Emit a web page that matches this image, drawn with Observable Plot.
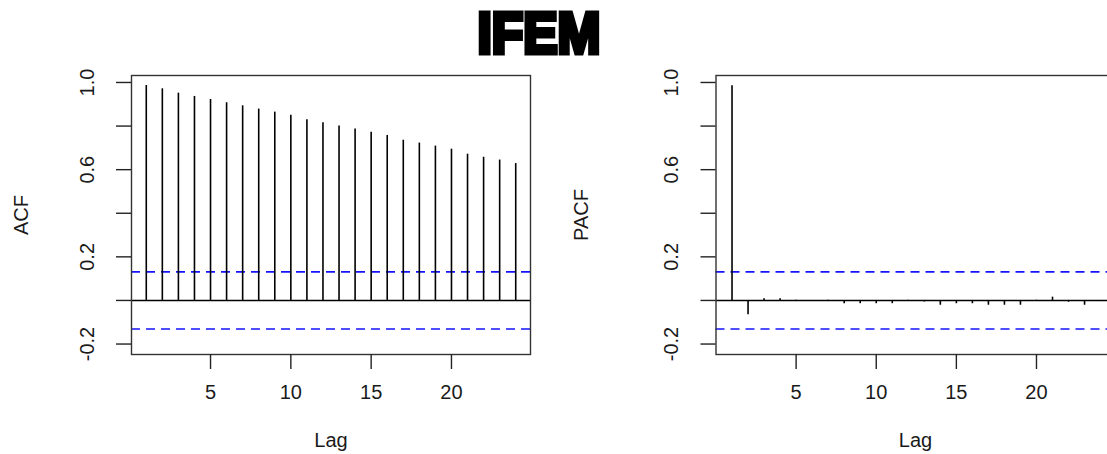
<!DOCTYPE html>
<html>
<head>
<meta charset="utf-8">
<script src="https://cdn.jsdelivr.net/npm/d3@7"></script>
<script src="https://cdn.jsdelivr.net/npm/@observablehq/plot@0.6"></script>
<style>
  html, body { margin: 0; padding: 0; background: #fff; overflow: hidden; }
  #wrap { position: relative; width: 1107px; height: 454px; overflow: hidden; background: #fff; }
  #titlebox { position: absolute; left: 0; top: 0; width: 1107px; height: 66px; overflow: visible; z-index: 2; }
  .panel { position: absolute; top: 60px; width: 560px; height: 394px; }
  .panel svg { max-width: none !important; width: 560px; height: 394px; }
</style>
</head>
<body>
<div id="wrap">
  <div id="left" class="panel" style="left:0px"></div>
  <div id="right" class="panel" style="left:560px"></div>
  <svg id="titlebox" width="1107" height="66" viewBox="0 0 1107 66">
    <text id="title" x="539" y="53" text-anchor="middle" textLength="123" lengthAdjust="spacingAndGlyphs"
      font-family="'Liberation Sans', Arial, sans-serif" font-weight="bold" font-size="58"
      fill="#000" stroke="#000" stroke-width="5" stroke-linejoin="miter"></text>
  </svg>
</div>
<script>
// Lags
const lags = [1, 2, 3, 4, 5, 6, 7, 8, 9, 10, 11, 12, 13, 14, 15, 16, 17, 18, 19, 20, 21, 22, 23, 24];
// ACF values
const acfValues = [0.986, 0.971, 0.951, 0.936, 0.922, 0.907, 0.893, 0.878, 0.864, 0.850, 0.829, 0.815,
                   0.800, 0.786, 0.772, 0.757, 0.735, 0.722, 0.708, 0.694, 0.671, 0.657, 0.644, 0.628];
// PACF values
const pacfValues = [0.985, -0.066, 0.008, 0.008, 0.001, -0.005, 0.001, -0.015, -0.015, -0.015, -0.015, 0.001,
                    -0.007, -0.022, -0.015, -0.015, -0.022, -0.022, -0.022, 0.001, 0.015, -0.008, -0.022, -0.002];
// Confidence limits (blue dashed)
const confLimits = [0.131, -0.131];
// Axis ticks
const xTicks = [5, 10, 15, 20];
const yTicks = [-0.2, 0, 0.2, 0.4, 0.6, 0.8, 1.0];
const yTickLabels = [-0.2, 0.2, 0.6, 1.0];
const titleText = "IFEM";
const xLabel = "Lag";

function panel(values, yLabel, xDomain, marginLeft, marginRight) {
  const data = lags.map((l, i) => ({lag: l, value: values[i]}));
  return Plot.plot({
    width: 560,
    height: 394,
    marginLeft,
    marginRight,
    marginTop: 15,
    marginBottom: 100,
    style: {fontFamily: "'Liberation Sans', Arial, sans-serif", fontSize: "20px", color: "#1a1a1a", background: "transparent", overflow: "visible"},
    x: {domain: xDomain, label: null},
    y: {domain: [-0.248, 1.032], label: null},
    marks: [
      Plot.ruleY(confLimits, {y: d => d, stroke: "#1414ff", strokeWidth: 1.6, strokeDasharray: "9,6"}),
      Plot.ruleY([0], {stroke: "#000", strokeWidth: 1.4}),
      Plot.ruleX(data, {x: "lag", y1: 0, y2: "value", stroke: "#000", strokeWidth: 1.6}),
      Plot.frame({stroke: "#333", strokeWidth: 1.4}),
      Plot.axisX({ticks: xTicks, tickSize: 15, tickPadding: 15, tickFormat: d => String(d), stroke: "#222", strokeWidth: 1.4, label: null}),
      Plot.axisY({ticks: yTicks, tickSize: 15, tickFormat: () => "", stroke: "#222", strokeWidth: 1.4, label: null}),
      Plot.text(yTickLabels, {y: d => d, text: d => d.toFixed(1), frameAnchor: "left", dx: -44, rotate: -90, textAnchor: "middle", lineAnchor: "middle", fill: "#1a1a1a"}),
      Plot.text([yLabel], {text: d => d, frameAnchor: "left", dx: -(marginLeft - 21), rotate: -90, textAnchor: "middle", lineAnchor: "middle", fill: "#1a1a1a"}),
      Plot.text([xLabel], {text: d => d, frameAnchor: "bottom", dy: 86, textAnchor: "middle", lineAnchor: "middle", fill: "#1a1a1a"})
    ]
  });
}

document.getElementById("title").textContent = titleText;
document.getElementById("left").appendChild(panel(acfValues, "ACF", [0.08, 24.92], 131, 30));
document.getElementById("right").appendChild(panel(pacfValues, "PACF", [0, 24.9], 155.5, 5.5));
</script>
</body>
</html>
